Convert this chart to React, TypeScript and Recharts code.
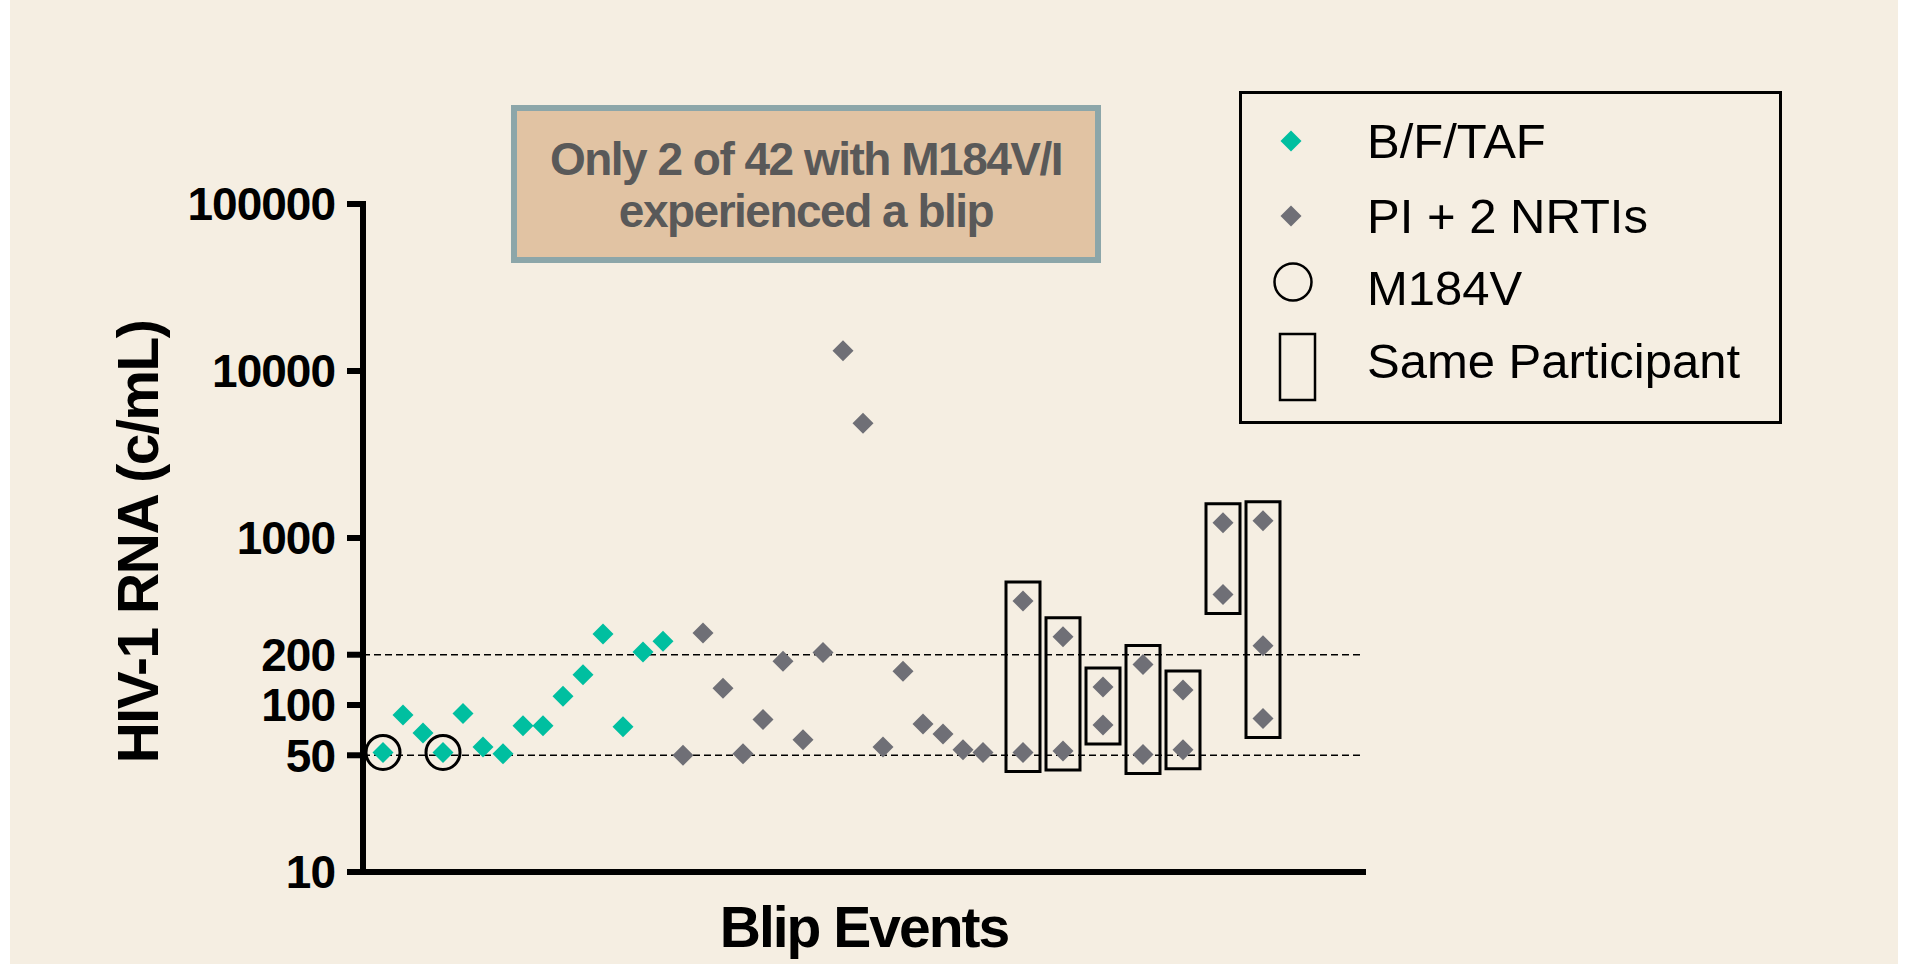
import React from 'react';
import {
  ScatterChart,
  Scatter,
  XAxis,
  YAxis,
  ReferenceLine,
  ReferenceArea,
  Label,
} from 'recharts';

// blip events, B/F/TAF arm
const bftafEvent = [1, 2, 3, 4, 5, 6, 7, 8, 9, 10, 11, 12, 13, 14, 15];
const bftafRna = [52, 87, 68, 52, 89, 56, 51, 75, 75, 113, 152, 266, 74, 208, 241];

// blip events, PI + 2 NRTIs arm
const piEvent = [
  16, 17, 18, 19, 20, 21, 22, 23, 24, 25, 26, 27, 28, 29, 30, 31,
  33, 33, 35, 35, 37, 37, 39, 39, 41, 41, 43, 43, 45, 45, 45,
];
const piRna = [
  50, 270, 126, 51, 82, 183, 62, 206, 13200, 4860, 56, 159, 77, 67, 54, 52,
  419, 52, 256, 53, 128, 76, 175, 50.5, 123, 54, 1233, 459, 1268, 226, 83,
];

// blips with M184V (B/F/TAF)
const m184vEvent = [1, 4];
const m184vRna = [52, 52];

// events that belong to one participant (boxed)
const sameParticipantEvents = [33, 35, 37, 39, 41, 43, 45];

const yTicks = [10, 50, 100, 200, 1000, 10000, 100000];
const thresholds = [200, 50];

const legendLabels = ['B/F/TAF', 'PI + 2 NRTIs', 'M184V', 'Same Participant'];
const noteLines = ['Only 2 of 42 with M184V/I', 'experienced a blip'];

const TEAL = '#00BFA0';
const GREY = '#6F6F76';
const BG = '#F5EEE2';
const FONT = '"Liberation Sans", Arial, Helvetica, sans-serif';

const toPoints = (xs: number[], ys: number[]) => xs.map((event, i) => ({ event, rna: ys[i] }));

const bftafData = toPoints(bftafEvent, bftafRna);
const piData = toPoints(piEvent, piRna);
const m184vData = toPoints(m184vEvent, m184vRna);

const boxes = sameParticipantEvents.map((ev) => {
  const vals = piData.filter((p) => p.event === ev).map((p) => p.rna);
  return {
    x1: ev - 0.85,
    x2: ev + 0.85,
    y1: Math.min(...vals) / 1.3,
    y2: Math.max(...vals) * 1.3,
  };
});

const Diamond = (color: string) => (props: any) => {
  const { cx, cy } = props;
  if (cx == null || cy == null) return null;
  const r = 10.5;
  return (
    <polygon
      points={`${cx},${cy - r} ${cx + r},${cy} ${cx},${cy + r} ${cx - r},${cy}`}
      fill={color}
    />
  );
};

const Ring = (props: any) => {
  const { cx, cy } = props;
  if (cx == null || cy == null) return null;
  return <circle cx={cx} cy={cy} r={17} fill="none" stroke="#000" strokeWidth={3} />;
};

const YTick = (props: any) => {
  const { x, y, payload } = props;
  return (
    <text
      x={x}
      y={y}
      dy="0.355em"
      textAnchor="end"
      fill="#000"
      fontFamily={FONT}
      fontWeight={700}
      fontSize={46}
      letterSpacing={-1}
    >
      {String(payload.value)}
    </text>
  );
};

export default function App() {
  return (
    <div
      style={{
        position: 'absolute',
        left: 0,
        top: 0,
        width: 1927,
        height: 964,
        background: '#fff',
        overflow: 'hidden',
      }}
    >
      <div style={{ position: 'absolute', left: 10, top: 0, width: 1888, height: 964, background: BG }} />
      <div style={{ position: 'absolute', left: 0, top: 0 }}>
        <ScatterChart width={1927} height={964} margin={{ top: 204, right: 564, bottom: 32, left: 0 }}>
          <XAxis
            type="number"
            dataKey="event"
            domain={[0, 50]}
            allowDataOverflow
            tick={false}
            tickLine={false}
            height={60}
            axisLine={{ stroke: '#000', strokeWidth: 6, strokeLinecap: 'square' }}
          >
            <Label
              content={() => (
                <text
                  x={864}
                  y={947}
                  textAnchor="middle"
                  fill="#000"
                  fontFamily={FONT}
                  fontWeight={700}
                  fontSize={57}
                  letterSpacing={-2}
                >
                  Blip Events
                </text>
              )}
            />
          </XAxis>
          <YAxis
            type="number"
            dataKey="rna"
            scale="log"
            domain={[10, 100000]}
            allowDataOverflow
            ticks={yTicks}
            interval={0}
            width={363}
            tickSize={16}
            tickMargin={12}
            tick={<YTick />}
            tickLine={{ stroke: '#000', strokeWidth: 6 }}
            axisLine={{ stroke: '#000', strokeWidth: 6, strokeLinecap: 'square' }}
          >
            <Label
              content={() => (
                <text
                  x={158}
                  y={542}
                  transform="rotate(-90 158 542)"
                  textAnchor="middle"
                  fill="#000"
                  fontFamily={FONT}
                  fontWeight={700}
                  fontSize={57}
                  letterSpacing={-1.5}
                >
                  HIV-1 RNA (c/mL)
                </text>
              )}
            />
          </YAxis>
          {thresholds.map((t) => (
            <ReferenceLine key={t} y={t} stroke="#000" strokeWidth={1.5} strokeDasharray="7 4" />
          ))}
          {boxes.map((b, i) => (
            <ReferenceArea
              key={i}
              x1={b.x1}
              x2={b.x2}
              y1={b.y1}
              y2={b.y2}
              fill="none"
              stroke="#000"
              strokeWidth={3}
              ifOverflow="visible"
            />
          ))}
          <Scatter name="B/F/TAF" data={bftafData} shape={Diamond(TEAL)} isAnimationActive={false} />
          <Scatter name="PI + 2 NRTIs" data={piData} shape={Diamond(GREY)} isAnimationActive={false} />
          <Scatter name="M184V" data={m184vData} shape={Ring} isAnimationActive={false} />
        </ScatterChart>
      </div>
      <svg
        width={1927}
        height={964}
        style={{ position: 'absolute', left: 0, top: 0, pointerEvents: 'none' }}
      >
        {/* annotation */}
        <rect x={514} y={108} width={584} height={152} fill="#E1C3A3" stroke="#8CA6A9" strokeWidth={6} />
        {noteLines.map((line, i) => (
          <text
            key={line}
            x={806}
            y={175 + i * 52}
            textAnchor="middle"
            fill="#595959"
            fontFamily={FONT}
            fontWeight={700}
            fontSize={46}
            letterSpacing={-1.5}
          >
            {line}
          </text>
        ))}
        {/* legend */}
        <rect x={1240.5} y={92.5} width={540} height={330} fill="none" stroke="#000" strokeWidth={3} />
        <polygon points="1291,130.5 1301.5,141 1291,151.5 1280.5,141" fill={TEAL} />
        <polygon points="1291,205.5 1301.5,216 1291,226.5 1280.5,216" fill={GREY} />
        <circle cx={1293} cy={282} r={18.5} fill="none" stroke="#000" strokeWidth={2.5} />
        <rect x={1280} y={334} width={35} height={66} fill="none" stroke="#000" strokeWidth={2.5} />
        {legendLabels.map((lab, i) => (
          <text
            key={lab}
            x={1367}
            y={[158, 233, 305, 378][i]}
            fill="#000"
            fontFamily={FONT}
            fontSize={49}
          >
            {lab}
          </text>
        ))}
      </svg>
    </div>
  );
}
